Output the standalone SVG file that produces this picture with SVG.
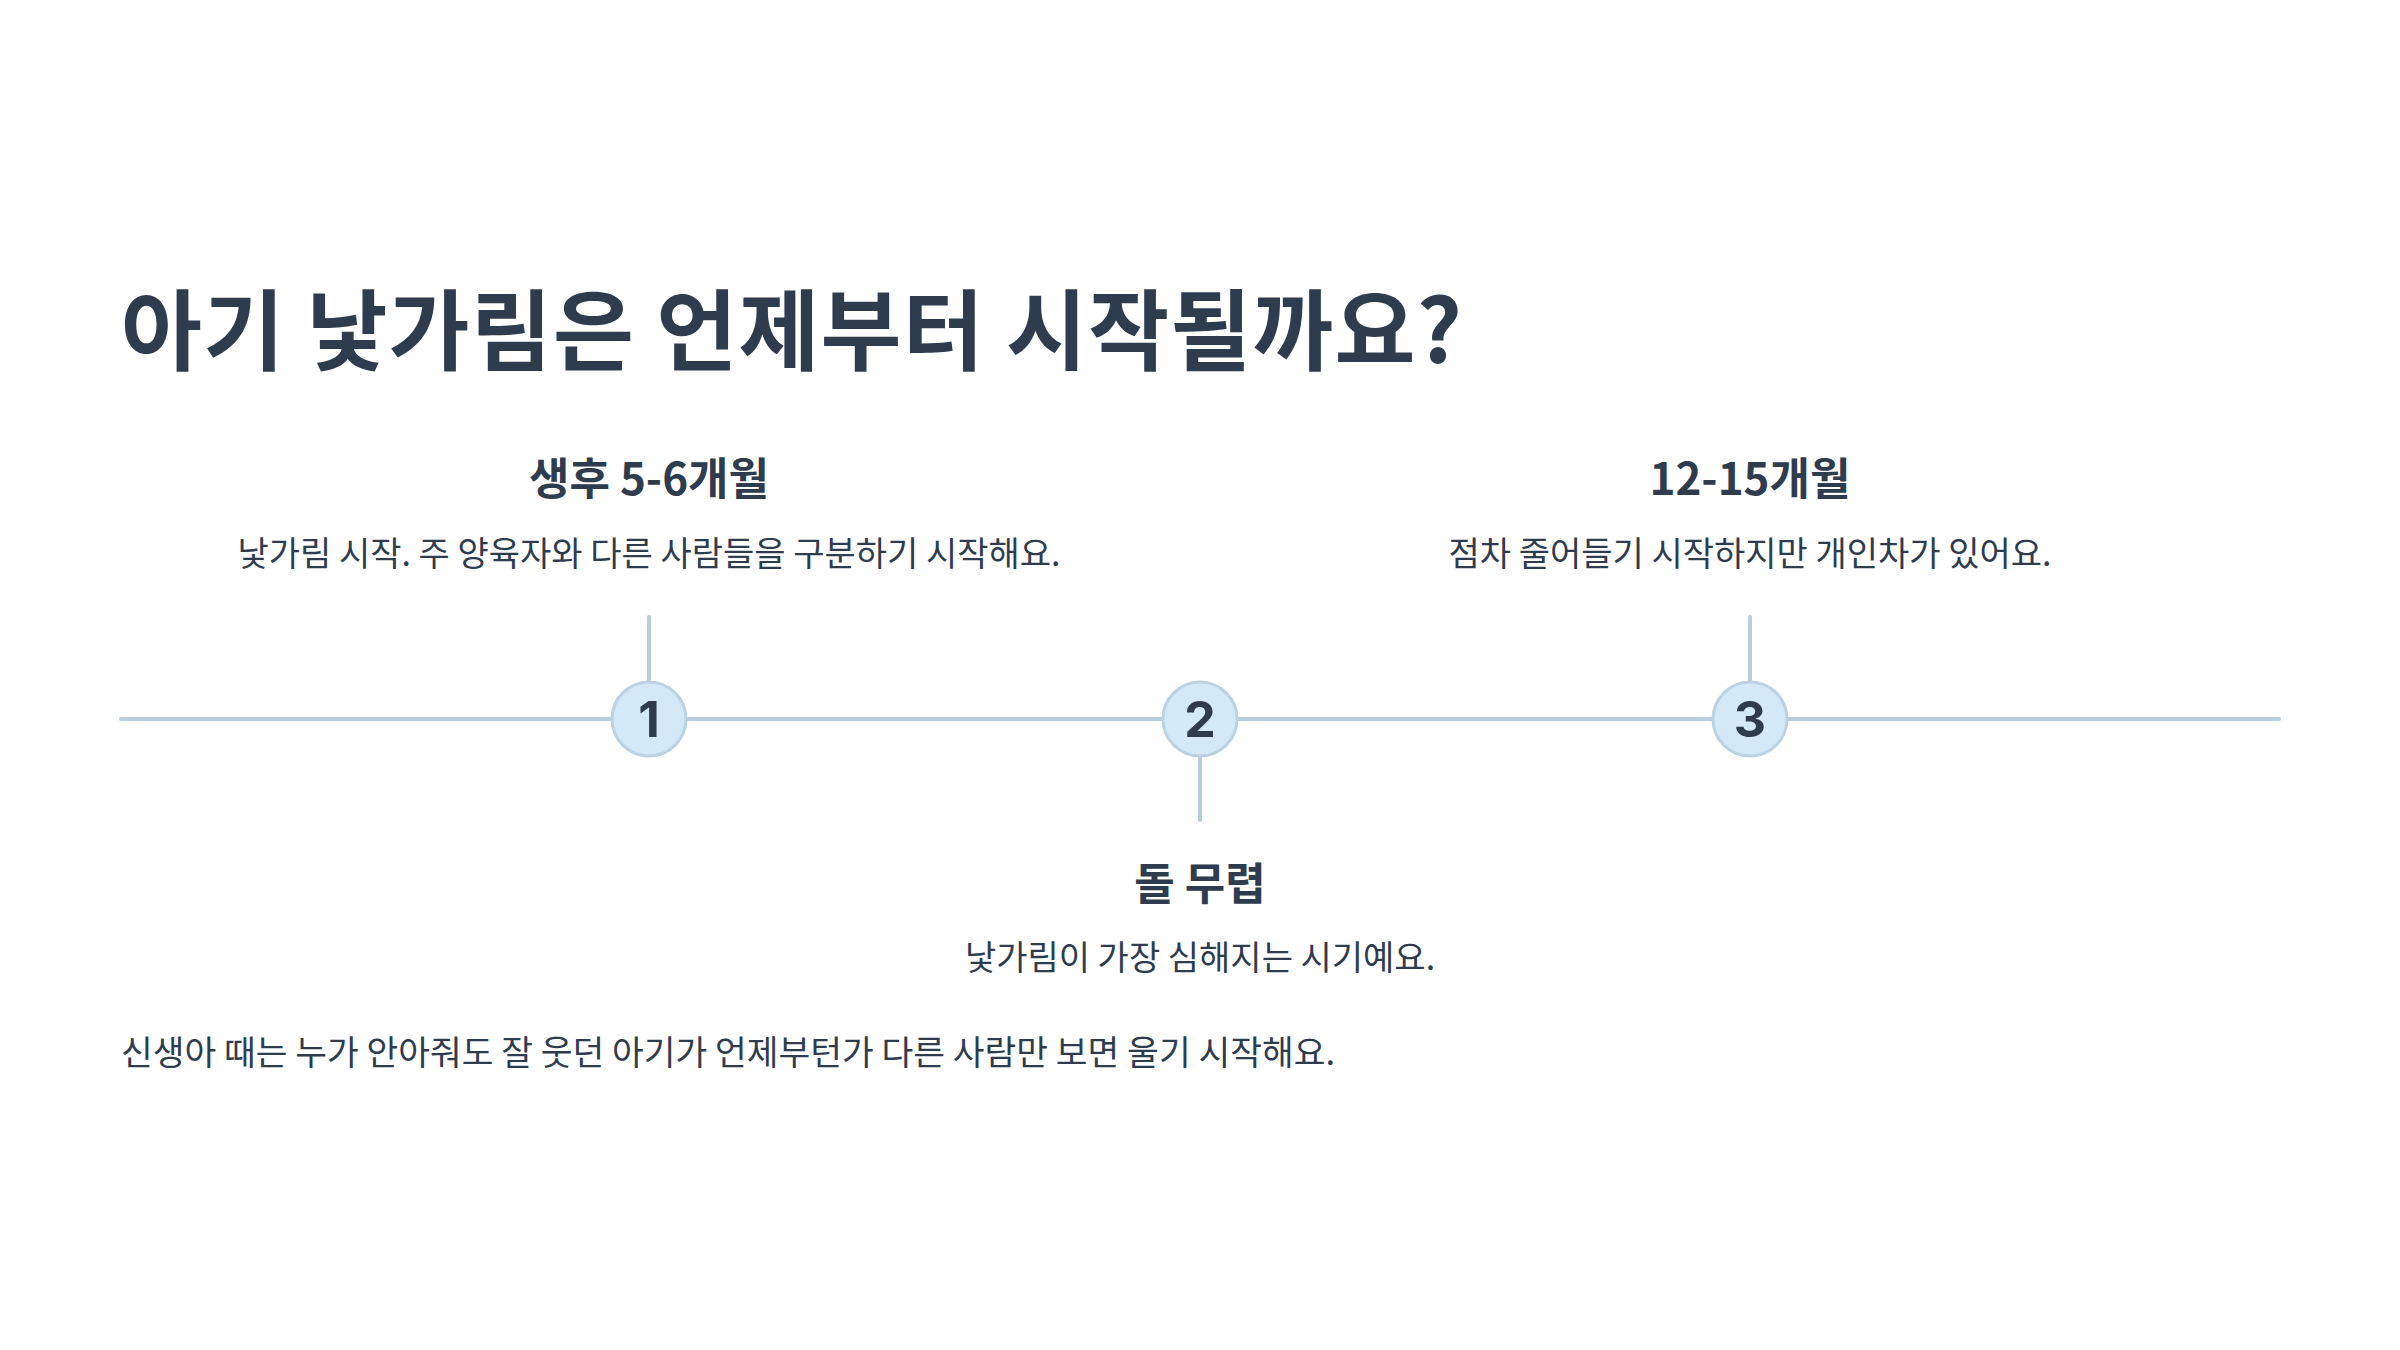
<svg xmlns="http://www.w3.org/2000/svg" width="2400" height="1350" viewBox="0 0 2400 1350">
<style>
text{font-family:"Noto Sans CJK KR","Noto Sans",sans-serif;fill:#2f3c4e}
.title{font-size:88px;font-weight:700}
.head{font-size:44px;font-weight:700;text-anchor:middle}
.desc{font-size:34px;font-weight:400;text-anchor:middle}
.body{font-size:34.5px;font-weight:400}
.num{font-size:50px;font-weight:700;text-anchor:middle;font-family:"Inter","Noto Sans",sans-serif}
.ln{stroke:#b9cedc;stroke-width:4;stroke-linecap:round;fill:none}
.dot{fill:#d3e9f8;stroke:#bcd2e2;stroke-width:3}
</style>
<rect width="2400" height="1350" fill="#ffffff"/>
<text class="title" x="121" y="363" textLength="1341" lengthAdjust="spacing">아기 낯가림은 언제부터 시작될까요?</text>
<g id="connectors">
<line class="ln" x1="121" y1="719" x2="2279" y2="719"/>
<line class="ln" x1="649" y1="617" x2="649" y2="682"/>
<line class="ln" x1="1200" y1="756" x2="1200" y2="820"/>
<line class="ln" x1="1750" y1="617" x2="1750" y2="682"/>
</g>
<g id="node1">
<circle class="dot" cx="649" cy="719" r="37"/>
<text class="num" x="649" y="737">1</text>
<text class="head" x="649" y="495">생후 5-6개월</text>
<text class="desc" x="649" y="566">낯가림 시작. 주 양육자와 다른 사람들을 구분하기 시작해요.</text>
</g>
<g id="node2">
<circle class="dot" cx="1200" cy="719" r="37"/>
<text class="num" x="1200" y="737">2</text>
<text class="head" x="1200" y="900">돌 무렵</text>
<text class="desc" x="1200" y="970">낯가림이 가장 심해지는 시기예요.</text>
</g>
<g id="node3">
<circle class="dot" cx="1750" cy="719" r="37"/>
<text class="num" x="1750" y="737">3</text>
<text class="head" x="1750" y="495">12-15개월</text>
<text class="desc" x="1750" y="566">점차 줄어들기 시작하지만 개인차가 있어요.</text>
</g>
<text class="body" x="121" y="1065" textLength="1214" lengthAdjust="spacing">신생아 때는 누가 안아줘도 잘 웃던 아기가 언제부턴가 다른 사람만 보면 울기 시작해요.</text>
</svg>
